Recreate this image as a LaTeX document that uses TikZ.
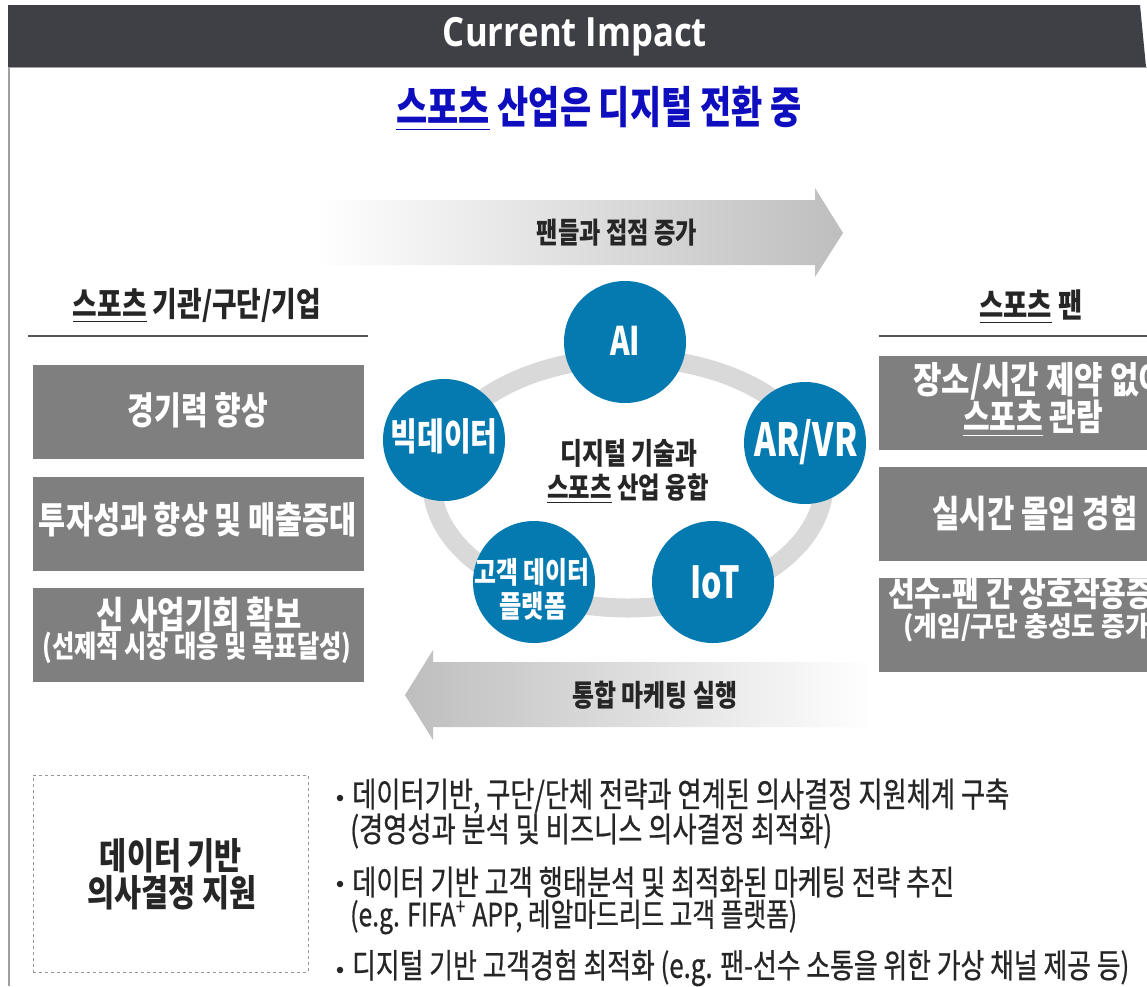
\documentclass[tikz,border=0pt]{standalone}
\usepackage{fontspec}
\usepackage{graphicx}
\setmainfont{Noto Sans CJK KR}[FakeStretch=0.8]
\newfontfamily\bodyfont{Noto Sans CJK KR}[FakeStretch=0.8, FakeBold=0.6]
\newfontfamily\hdrfont{Open Sans}[FakeStretch=0.86]
\definecolor{hdr}{RGB}{63,64,69}
\definecolor{titleblue}{RGB}{14,14,190}
\definecolor{boxgray}{RGB}{127,127,127}
\definecolor{cblue}{RGB}{4,122,176}
\definecolor{ringgray}{RGB}{217,217,217}
\definecolor{arrowgray}{RGB}{190,190,190}
\definecolor{darktext}{RGB}{38,38,38}
\definecolor{linegray}{RGB}{85,85,85}
\definecolor{bordergray}{RGB}{160,160,160}
\definecolor{dashgray}{RGB}{150,150,150}
\newcommand\fitw[3][1]{\scalebox{1}[#1]{\resizebox{#2pt}{!}{#3}}}
\begin{document}
\begin{tikzpicture}[x=1pt,y=-1pt,
  graybox/.style={rectangle, fill=boxgray, inner sep=0pt, minimum width=331pt, minimum height=94pt},
  bluecirc/.style={circle, fill=cblue, inner sep=0pt, minimum size=122pt},
  txt/.style={inner sep=0pt},
  wtxt/.style={txt, text=white, font=\bfseries},
  dtxt/.style={txt, text=darktext, font=\bfseries},
  btxt/.style={txt, text=darktext, anchor=west, font=\bodyfont},
  hline/.style={draw=linegray, line width=1.6pt},
  ringline/.style={draw=ringgray, line width=19pt},
  dashbox/.style={rectangle, draw=dashgray, dashed, line width=1pt, inner sep=0pt, minimum width=275pt, minimum height=197pt},
  bulletdot/.style={circle, fill=darktext, inner sep=0pt, minimum size=6.5pt}]
\useasboundingbox (0,0) rectangle (1147,986);
\clip (0,0) rectangle (1147,986);
\fill[white] (0,0) rectangle (1147,986);

% header
\fill[hdr] (8,5) -- (1140,5) -- (1146,67) -- (8,67) -- cycle;
\draw[bordergray, line width=0.8pt] (8,67.5) -- (1147,67.5);
\draw[bordergray, line width=1.6pt] (9,67) -- (9,986);
\node[txt, text=white, font=\hdrfont\bfseries] (head) at (575,37) {\fitw{264}{Current Impact}};

% title
\node[txt, text=titleblue, font=\bfseries] (title) at (599,109) {\fitw[1.04]{405}{\underline{스포츠} 산업은 디지털 전환 중}};

% top arrow
\shade[left color=white, right color=arrowgray] (313,200) -- (815,200) -- (815,188) -- (843,233) -- (815,277) -- (815,265) -- (313,265) -- cycle;
\node[dtxt] (toparrow) at (617,233) {\fitw{160}{팬들과 접점 증가}};

% bottom arrow
\shade[left color=arrowgray, right color=white] (405,695) -- (433,650) -- (433,662) -- (872,662) -- (872,727) -- (433,727) -- (433,740) -- cycle;
\node[dtxt] (botarrow) at (655,695) {\fitw{165}{통합 마케팅 실행}};

% left column
\node[dtxt] (lhead) at (197,306) {\fitw{248}{\underline{스포츠} 기관/구단/기업}};
\coordinate (lla) at (28,336);
\coordinate (llb) at (368,336);
\draw[hline] (lla) -- (llb);
\node[graybox] (l1) at (198.5,412) {};
\node[graybox] (l2) at (198.5,524) {};
\node[graybox] (l3) at (198.5,635) {};
\node[wtxt] (l1t) at (198,410) {\fitw[1.04]{140}{경기력 향상}};
\node[wtxt] (l2t) at (198,520) {\fitw{318}{투자성과 향상 및 매출증대}};
\node[wtxt] (l3t) at (199,614) {\fitw{205}{신 사업기회 확보}};
\node[wtxt] (l3s) at (197,648) {\fitw{309}{(선제적 시장 대응 및 목표달성)}};

% right column
\node[dtxt] (rhead) at (1031,307) {\fitw{103}{\underline{스포츠} 팬}};
\coordinate (rla) at (879,336);
\coordinate (rlb) at (1147,336);
\draw[hline] (rla) -- (rlb);
\node[graybox] (r1) at (1044.5,402.5) {};
\node[graybox] (r2) at (1044.5,514) {};
\node[graybox] (r3) at (1044.5,625) {};
\node[wtxt, anchor=west] (r1t) at (913,381) {\fitw[0.95]{254}{장소/시간 제약 없이}};
\node[wtxt] (r1s) at (1033,419) {\fitw{140}{\underline{스포츠} 관람}};
\node[wtxt] (r2t) at (1035,513) {\fitw{205}{실시간 몰입 경험}};
\node[wtxt, anchor=west] (r3t) at (888,594) {\fitw[0.95]{292}{선수-팬 간 상호작용증대}};
\node[wtxt, anchor=west] (r3s) at (903,628) {\fitw[0.85]{256}{(게임/구단 충성도 증가)}};

% center ring and circles
\draw[ringline] (628,483) ellipse [x radius=196pt, y radius=125pt];
\node[bluecirc] (ai) at (625,342) {};
\node[bluecirc] (big) at (444,440) {};
\node[bluecirc] (arvr) at (805,443) {};
\node[bluecirc] (iot) at (713,582) {};
\node[bluecirc] (cdp) at (534,582) {};
\node[wtxt] (ait) at (625,341) {\fitw[1.06]{30}{AI}};
\node[wtxt] (bigt) at (444,436) {\fitw[1.04]{107}{빅데이터}};
\node[wtxt] (arvrt) at (806,442) {\fitw[1.1]{103}{AR/VR}};
\node[wtxt] (iott) at (715,582) {\fitw[1.1]{50}{IoT}};
\node[wtxt] (cdpt) at (532,572) {\fitw{115}{고객 데이터}};
\node[wtxt] (cdps) at (533,606) {\fitw{67}{플랫폼}};
\node[dtxt] (ct1) at (629,453) {\fitw{137}{디지털 기술과}};
\node[dtxt] (ct2) at (628,489) {\fitw{161}{\underline{스포츠} 산업 융합}};

% bottom section
\node[dashbox] (dbox) at (170.5,873.5) {};
\node[dtxt] (db1) at (171,856) {\fitw{142}{데이터 기반}};
\node[dtxt] (db2) at (172,893) {\fitw{169}{의사결정 지원}};
\node[bulletdot] (b1) at (340,798) {};
\node[bulletdot] (b3) at (340,884) {};
\node[bulletdot] (b5) at (340,970) {};
\node[btxt] (t1) at (352,796) {\fitw[1.04]{657}{데이터기반, 구단/단체 전략과 연계된 의사결정 지원체계 구축}};
\node[btxt] (t2) at (350,831) {\fitw[1.04]{482}{(경영성과 분석 및 비즈니스 의사결정 최적화)}};
\node[btxt] (t3) at (352,882) {\fitw[1.04]{602}{데이터 기반 고객 행태분석 및 최적화된 마케팅 전략 추진}};
\node[btxt] (t4) at (350,917) {\fitw[1.04]{447}{(e.g. FIFA\textsuperscript{+} APP, 레알마드리드 고객 플랫폼)}};
\node[btxt] (t5) at (352,968) {\fitw[1.04]{777}{디지털 기반 고객경험 최적화 (e.g. 팬-선수 소통을 위한 가상 채널 제공 등)}};
\end{tikzpicture}
\end{document}
